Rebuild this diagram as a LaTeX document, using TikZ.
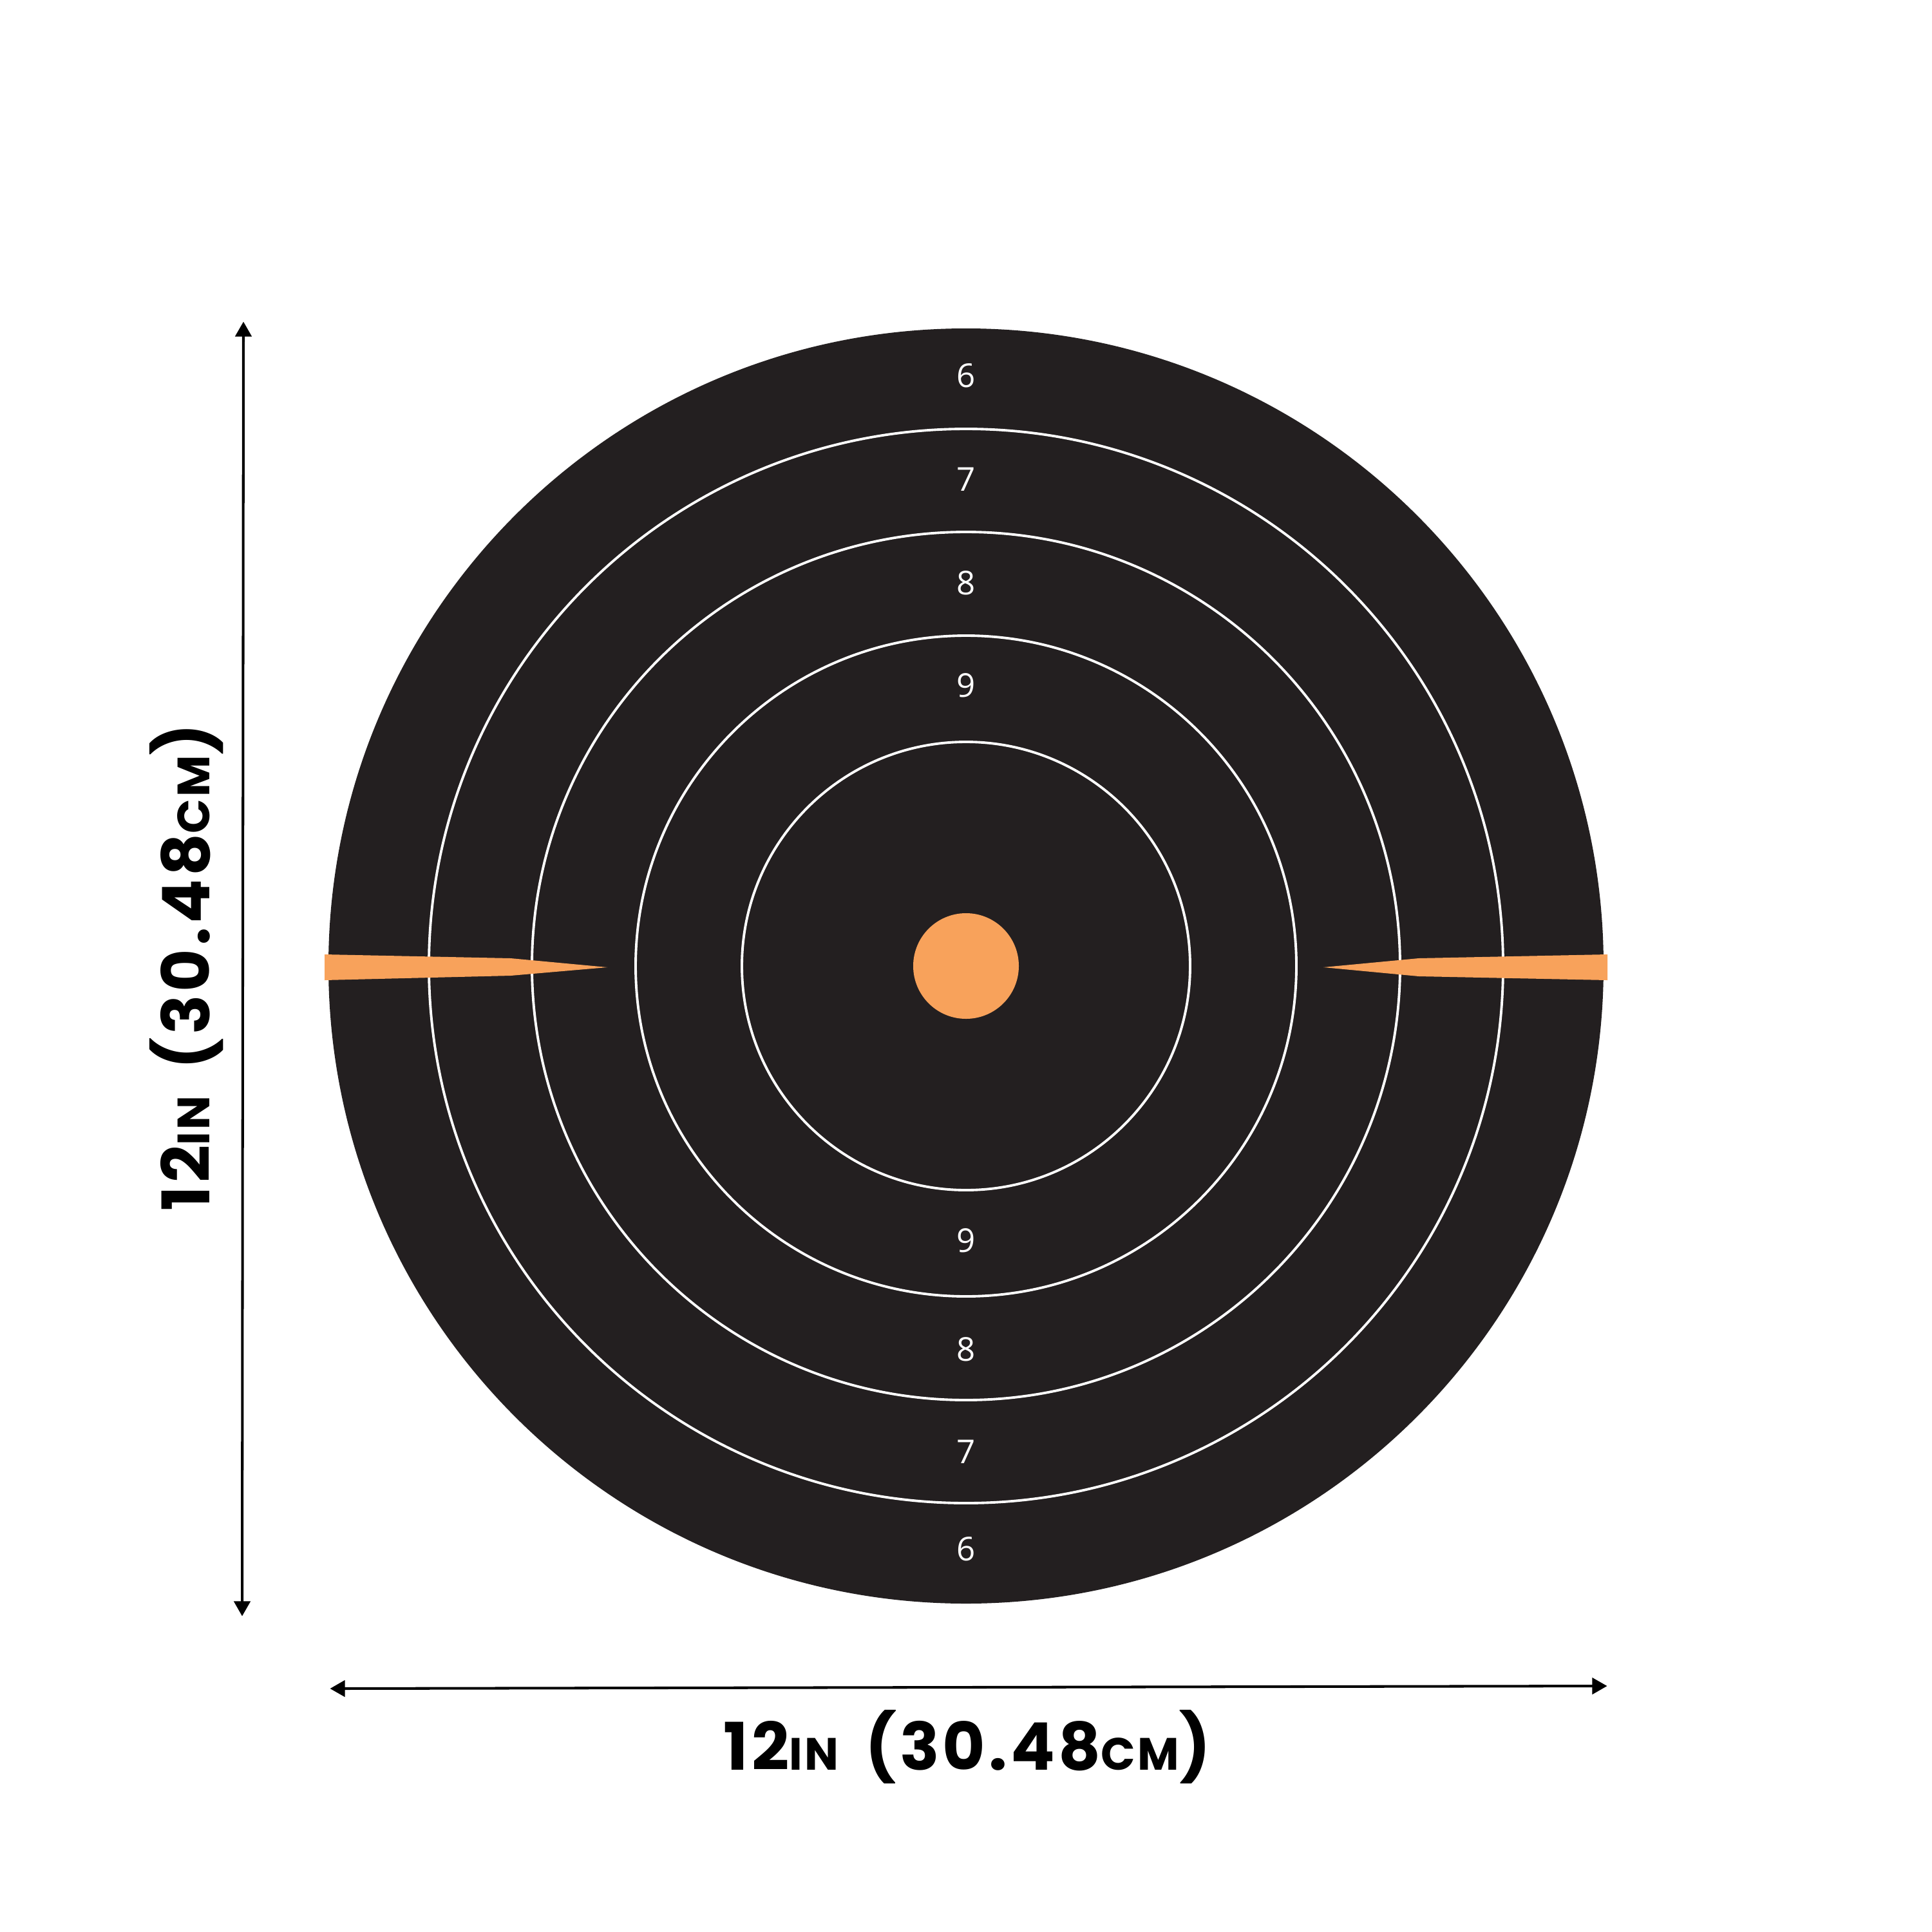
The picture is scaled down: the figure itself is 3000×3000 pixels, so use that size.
\documentclass[tikz,border=0pt]{standalone}
\usepackage{fontspec}
\usetikzlibrary{arrows.meta}
\newfontfamily\numfont{Open Sans}
\newfontfamily\dimfont{Poppins}[LetterSpace=5]
\definecolor{tblack}{HTML}{231F20}
\definecolor{torange}{HTML}{F8A25B}
\tikzset{
  ring/.style={draw=white, line width=1.1pt},
  score/.style={text=white, font=\numfont\fontsize{14.5}{14.5}\selectfont, inner sep=0pt},
  dimline/.style={line width=1.15pt, {Triangle[width=7.2pt,length=6.6pt]}-{Triangle[width=7.2pt,length=6.6pt]}, shorten <=-1pt, shorten >=-1pt},
  dimlabel/.style={font=\dimfont\bfseries\fontsize{29}{29}\selectfont, inner sep=0pt},
  spike/.style={fill=torange}
}
\newcommand{\dimtext}{12{\fontsize{20}{20}\selectfont IN}\hspace{4pt} (30.48{\fontsize{20}{20}\selectfont CM})}
\begin{document}
\begin{tikzpicture}[x=0.01cm, y=-0.01cm]
\useasboundingbox[fill=white] (0,0) rectangle (3000,3000);
% target
\fill[tblack] (1500,1500) circle (990);
\draw[ring] (1500,1500) circle (834);
\draw[ring] (1500,1500) circle (674);
\draw[ring] (1500,1500) circle (513);
\draw[ring] (1500,1500) circle (348);
\fill[torange] (1500,1500) circle (82);
% spikes
\fill[spike] (504,1482) -- (793,1488) -- (943,1502) -- (793,1515) -- (504,1522) -- cycle;
\fill[spike] (2496,1482) -- (2203,1488) -- (2055,1502) -- (2203,1516) -- (2496,1522) -- cycle;
% scores
\node[score] (s6t) at (1500,583) {6};
\node[score] (s7t) at (1500,744) {7};
\node[score] (s8t) at (1500,905) {8};
\node[score] (s9t) at (1500,1064) {9};
\node[score] (s9b) at (1500,1926) {9};
\node[score] (s8b) at (1500,2095) {8};
\node[score] (s7b) at (1500,2254) {7};
\node[score] (s6b) at (1500,2405) {6};
% dimension lines
\coordinate (vtop) at (378,503);
\coordinate (vbot) at (376,2506);
\coordinate (hleft) at (516,2622);
\coordinate (hright) at (2492,2618);
\draw[dimline] (vtop) -- (vbot);
\draw[dimline] (hleft) -- (hright);
\node[dimlabel] (hlab) at (1502,2713) {\dimtext};
\node[dimlabel, rotate=90] (vlab) at (290,1502) {\dimtext};
\end{tikzpicture}
\end{document}
